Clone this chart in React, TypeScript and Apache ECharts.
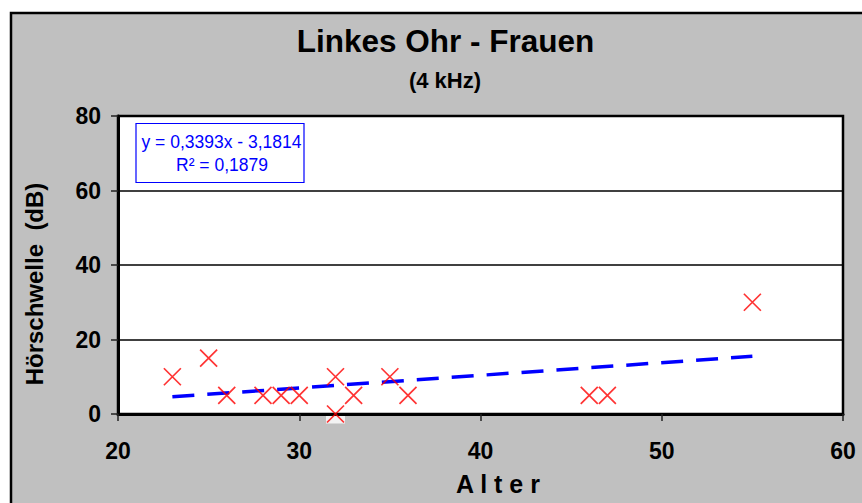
import React, { useEffect, useRef } from "react";
import * as echarts from "echarts";

const FONT = "'Liberation Sans', Arial, sans-serif";

const titleText = "Linkes Ohr - Frauen";
const subtitleText = "(4 kHz)";
const xAxisName = "A l t e r";
const yAxisName = "Hörschwelle  (dB)";
const equationLine1 = "y = 0,3393x - 3,1814";
const equationLine2 = "R² = 0,1879";

const ages = [23, 25, 26, 28, 29, 30, 32, 32, 33, 35, 36, 46, 47, 55];
const thresholds = [10, 15, 5, 5, 5, 5, 10, 0, 5, 10, 5, 5, 5, 30];
const trendAges = [23, 55];
const trendValues = [4.62, 15.48];

export default function App() {
  const ref = useRef<HTMLDivElement>(null);

  useEffect(() => {
    if (!ref.current) return;
    const chart = echarts.init(ref.current, null, { renderer: "svg" });
    const points = ages.map((a, i) => [a, thresholds[i]]);
    const trend = trendAges.map((a, i) => [a, trendValues[i]]);
    chart.setOption({
      animation: false,
      backgroundColor: "#ffffff",
      textStyle: { fontFamily: FONT },
      grid: {
        left: 118,
        top: 116,
        width: 725,
        height: 298,
        show: true,
        backgroundColor: "#ffffff",
        borderColor: "#000000",
        borderWidth: 2.5,
      },
      xAxis: {
        type: "value",
        min: 20,
        max: 60,
        interval: 10,
        axisLine: { show: true, onZero: false, lineStyle: { color: "#000", width: 3 } },
        axisTick: { show: true, length: 7, lineStyle: { color: "#222", width: 1.5 } },
        axisLabel: { color: "#000", fontSize: 23, fontWeight: "bold", fontFamily: FONT, margin: 25 },
        splitLine: { show: false },
      },
      yAxis: {
        type: "value",
        min: 0,
        max: 80,
        interval: 20,
        axisLine: { show: true, onZero: false, lineStyle: { color: "#000", width: 3 } },
        axisTick: { show: true, length: 7, lineStyle: { color: "#222", width: 1.5 } },
        axisLabel: { color: "#000", fontSize: 23, fontWeight: "bold", fontFamily: FONT, margin: 17 },
        splitLine: { show: true, lineStyle: { color: "#000", width: 1.5 } },
      },
      series: [
        {
          type: "scatter",
          data: points,
          symbol: "rect",
          symbolSize: 19,
          clip: false,
          silent: true,
          itemStyle: { color: "#ffffff", borderWidth: 0 },
          z: -1,
        },
        {
          type: "line",
          data: trend,
          symbol: "none",
          lineStyle: { color: "#0000ff", width: 3.5, type: [22, 13] },
          z: 3,
        },
        {
          type: "scatter",
          data: points,
          symbol: "path://M0,0L10,10M10,0L0,10",
          symbolSize: 17,
          clip: false,
          itemStyle: { color: "none", borderColor: "#ff0000", borderWidth: 1.7 },
          z: 4,
        },
      ],
      graphic: [
        {
          type: "rect",
          silent: true,
          z: -10,
          shape: { x: 11, y: 13, width: 900, height: 560 },
          style: { fill: "#c0c0c0", stroke: "#000000", lineWidth: 2.5 },
        },
        {
          type: "text",
          x: 445.5,
          y: 40.5,
          style: {
            text: titleText,
            fill: "#000",
            font: `bold 31.5px ${FONT}`,
            textAlign: "center",
            textVerticalAlign: "middle",
          },
        },
        {
          type: "text",
          x: 445,
          y: 80.5,
          style: {
            text: subtitleText,
            fill: "#000",
            font: `bold 22px ${FONT}`,
            textAlign: "center",
            textVerticalAlign: "middle",
          },
        },
        {
          type: "text",
          x: 498,
          y: 484,
          style: {
            text: xAxisName,
            fill: "#000",
            font: `bold 25px ${FONT}`,
            textAlign: "center",
            textVerticalAlign: "middle",
          },
        },
        {
          type: "text",
          x: 34,
          y: 284,
          rotation: Math.PI / 2,
          style: {
            text: yAxisName,
            fill: "#000",
            font: `bold 24px ${FONT}`,
            textAlign: "center",
            textVerticalAlign: "middle",
          },
        },
        {
          type: "group",
          x: 136,
          y: 123.5,
          z: 10,
          children: [
            {
              type: "rect",
              shape: { x: 0, y: 0, width: 168, height: 59 },
              style: { fill: "#ffffff", stroke: "#0000ff", lineWidth: 1.2 },
            },
            {
              type: "text",
              x: 85.5,
              y: 18.5,
              style: {
                text: equationLine1,
                fill: "#0000ff",
                font: `17.5px ${FONT}`,
                textAlign: "center",
                textVerticalAlign: "middle",
              },
            },
            {
              type: "text",
              x: 86,
              y: 41.5,
              style: {
                text: equationLine2,
                fill: "#0000ff",
                font: `17.5px ${FONT}`,
                textAlign: "center",
                textVerticalAlign: "middle",
              },
            },
          ],
        },
      ],
    });
    return () => chart.dispose();
  }, []);

  return (
    <div
      ref={ref}
      style={{ position: "fixed", left: 0, top: 0, width: 862, height: 503 }}
    />
  );
}
